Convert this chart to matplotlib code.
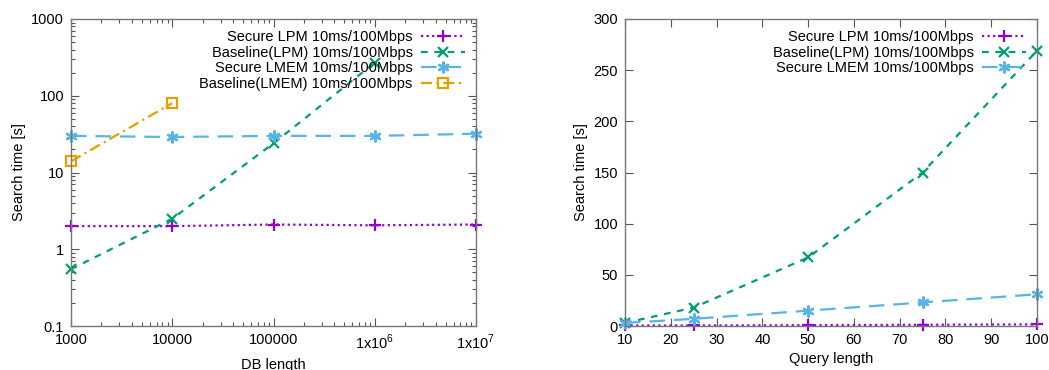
import matplotlib
matplotlib.use("Agg")
import matplotlib.pyplot as plt
from matplotlib.ticker import FixedLocator, FixedFormatter, LogLocator, NullFormatter

plt.rcParams['font.family'] = ['Liberation Sans', 'DejaVu Sans']
plt.rcParams['mathtext.fontset'] = 'custom'
plt.rcParams['mathtext.rm'] = 'Liberation Sans'

# Left chart: search time vs DB length
db_len = [1e3, 1e4, 1e5, 1e6, 1e7]
sec_lpm_db = [2.0, 2.0, 2.1, 2.05, 2.1]
base_lpm_db = [0.55, 2.5, 24, 270]
sec_lmem_db = [30, 29, 30, 30, 32]
base_lmem_db = [14, 80]
db_ticks = [1e3, 1e4, 1e5, 1e6, 1e7]
db_ticklabels = ['1000', '10000', '100000', r'1x10$^{6}$', r'1x10$^{7}$']

# Right chart: search time vs query length
q_len = [10, 25, 50, 75, 100]
sec_lpm_q = [0.5, 0.5, 0.8, 1.2, 1.6]
base_lpm_q = [3, 18, 67, 150, 269]
sec_lmem_q = [3, 7, 15, 23, 31]

labels = ['Secure LPM 10ms/100Mbps', 'Baseline(LPM) 10ms/100Mbps',
          'Secure LMEM 10ms/100Mbps', 'Baseline(LMEM) 10ms/100Mbps']
colors = ['#9400D3', '#009E73', '#56B4E9', '#E69F00']

FS = 10.5

fig = plt.figure(figsize=(10.49, 3.70), dpi=100)
ax1 = fig.add_axes([71/1049, 1-326/370, (476-71)/1049, (326-19)/370])
ax2 = fig.add_axes([625/1049, 1-326/370, (1037-625)/1049, (326-19)/370])

styles = [
    dict(linestyle=(0, (1, 1.5)), marker='+', markersize=8, mew=1.6),
    dict(linestyle=(0, (3, 3)), marker='x', markersize=7, mew=1.6),
    dict(linestyle=(0, (7, 4)), marker=(6, 2, 0), markersize=8.5, mew=1.6),
    dict(linestyle=(0, (5, 2, 1, 2)), marker='s', markersize=7, mew=1.6, mfc='none'),
]

def plot_series(ax, x, y, i):
    ax.plot(x[:len(y)], y, color=colors[i], lw=1.6, label=labels[i], clip_on=False, **styles[i])

plot_series(ax1, db_len, sec_lpm_db, 0)
plot_series(ax1, db_len, base_lpm_db, 1)
plot_series(ax1, db_len, sec_lmem_db, 2)
plot_series(ax1, db_len, base_lmem_db, 3)

ax1.set_xscale('log')
ax1.set_yscale('log')
ax1.set_xlim(1e3, 1e7)
ax1.set_ylim(0.1, 1000)
ax1.xaxis.set_major_locator(FixedLocator(db_ticks))
ax1.xaxis.set_major_formatter(FixedFormatter(db_ticklabels))
ax1.xaxis.set_minor_locator(LogLocator(base=10, subs=range(2, 10)))
ax1.xaxis.set_minor_formatter(NullFormatter())
ax1.yaxis.set_major_locator(FixedLocator([0.1, 1, 10, 100, 1000]))
ax1.yaxis.set_major_formatter(FixedFormatter(['0.1', '1', '10', '100', '1000']))
ax1.yaxis.set_minor_locator(LogLocator(base=10, subs=range(2, 10)))
ax1.yaxis.set_minor_formatter(NullFormatter())
ax1.set_xlabel('DB length', fontsize=FS, labelpad=4)
ax1.set_ylabel('Search time [s]', fontsize=FS, labelpad=4)

plot_series(ax2, q_len, sec_lpm_q, 0)
plot_series(ax2, q_len, base_lpm_q, 1)
plot_series(ax2, q_len, sec_lmem_q, 2)
ax2.set_xlim(10, 100)
ax2.set_ylim(0, 300)
ax2.set_xticks(range(10, 101, 10))
ax2.set_yticks(range(0, 301, 50))
ax2.set_xlabel('Query length', fontsize=FS, labelpad=4)
ax2.set_ylabel('Search time [s]', fontsize=FS, labelpad=4)

for ax in (ax1, ax2):
    ax.tick_params(which='both', direction='in', top=True, right=True, labelsize=FS, pad=5)
    ax.tick_params(which='major', length=6, width=0.8, color='#555555')
    ax.tick_params(which='minor', length=3, width=0.8, color='#555555')
    for s in ax.spines.values():
        s.set_color('#777777')
        s.set_linewidth(1.0)
    leg = ax.legend(loc='upper right', frameon=False, markerfirst=False, fontsize=FS,
                    handlelength=3.0, labelspacing=0.12, borderaxespad=0.35,
                    handletextpad=0.6)
    for t in leg.get_texts():
        t.set_ha('right')

fig.savefig('out.png', dpi=100)
